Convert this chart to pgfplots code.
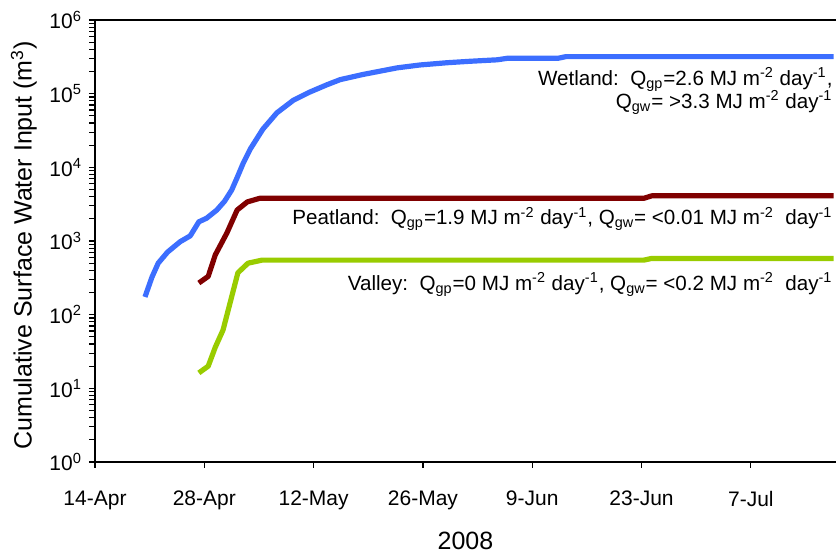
\documentclass[border=0pt]{standalone}
\usepackage{pgfplots}
\pgfplotsset{compat=1.18}
\usepackage{fontspec}
\setmainfont{Liberation Sans}

\definecolor{wetblue}{RGB}{60,110,255}
\definecolor{peatred}{RGB}{128,0,0}
\definecolor{valgreen}{RGB}{153,204,0}

% days counted from 14 April 2008
\pgfplotstableread{
day   vol
6.4   174
7.3   324
8.1   501
9.3   708
10.9  977
12.2  1175
13.3  1820
14.3  2040
15.6  2630
16.6  3470
17.5  4900
18.2  7240
19.0  11500
19.9  17800
21.5  33000
23.3  55000
25.4  81300
27.5  105000
29.7  132000
31.4  155000
34.3  182000
38.7  224000
41.6  245000
45.1  263000
48.0  275000
51.5  288000
52.8  302000
59.3  302000
60.3  318000
94.6  318000
}\wetland

\pgfplotstableread{
day   vol
13.3  269
14.5  331
15.4  646
16.9  1290
18.2  2630
19.5  3390
21.1  3800
70.3  3800
71.3  4100
94.6  4100
}\peatland

\pgfplotstableread{
day   vol
13.3  16.2
14.5  20
15.4  36
16.4  62
18.3  370
19.6  500
21.4  550
70.3  550
71.3  580
94.6  580
}\valley

\newcommand{\lbl}{\fontsize{10.3}{12}\selectfont}

\begin{document}
\begin{tikzpicture}
\begin{axis}[
    scale only axis,
    width=370.5pt, height=221pt,
    xmin=0, xmax=94.9,
    ymode=log, ymin=1, ymax=1e6,
    axis x line=box, axis y line=left,
    axis line style={-, black, line width=0.7pt},
    xtick pos=left, ytick pos=left,
    tick align=outside,
    major tick length=3pt,
    tick style={black, line width=0.6pt},
    xtick={0,14,28,42,56,70,84},
    xticklabels={14-Apr,28-Apr,12-May,26-May,9-Jun,23-Jun,7-Jul},
    ytick={1,10,100,1000,10000,100000,1000000},
    yticklabels={10\textsuperscript{0},10\textsuperscript{1},10\textsuperscript{2},10\textsuperscript{3},10\textsuperscript{4},10\textsuperscript{5},10\textsuperscript{6}},
    minor ytick={},
    tick label style={font=\fontsize{10.5}{12}\selectfont},
    xticklabel style={yshift=-8pt},
    xlabel={2008},
    ylabel={Cumulative Surface Water Input (m\textsuperscript{3})},
    label style={font=\fontsize{12.5}{14}\selectfont},
    x label style={at={(axis description cs:0.5,0)}, anchor=center, yshift=-39.5pt},
    y label style={at={(axis description cs:-0.096,0.49)}, anchor=center},
    clip=false,
]
\addplot[wetblue, line width=2.6pt, line join=round] table[x=day, y=vol] {\wetland};
\addplot[peatred, line width=2.6pt, line join=round] table[x=day, y=vol] {\peatland};
\addplot[valgreen, line width=2.6pt, line join=round] table[x=day, y=vol] {\valley};

\node[anchor=base east, inner sep=0pt, font=\lbl] at (axis cs:94.5,131000)
  {Wetland:\ \ Q\textsubscript{gp}=2.6 MJ m\textsuperscript{-2} day\textsuperscript{-1},};
\node[anchor=base east, inner sep=0pt, font=\lbl] at (axis cs:94.5,63800)
  {Q\textsubscript{gw}= >3.3 MJ m\textsuperscript{-2} day\textsuperscript{-1}};
\node[anchor=base east, inner sep=0pt, font=\lbl] at (axis cs:94.5,1650)
  {Peatland:\ \ Q\textsubscript{gp}=1.9 MJ m\textsuperscript{-2} day\textsuperscript{-1}, Q\textsubscript{gw}= <0.01 MJ m\textsuperscript{-2}\ \ day\textsuperscript{-1}};
\node[anchor=base east, inner sep=0pt, font=\lbl] at (axis cs:94.5,216)
  {Valley:\ \ Q\textsubscript{gp}=0 MJ m\textsuperscript{-2} day\textsuperscript{-1}, Q\textsubscript{gw}= <0.2 MJ m\textsuperscript{-2}\ \ day\textsuperscript{-1}};

\coordinate (sw) at (rel axis cs:0,0);
\coordinate (ne) at (rel axis cs:1,1);
\end{axis}
\pgfresetboundingbox
\useasboundingbox ([xshift=-47.5pt, yshift=-46.5pt]sw) rectangle ([yshift=10pt]ne);
\end{tikzpicture}
\end{document}
